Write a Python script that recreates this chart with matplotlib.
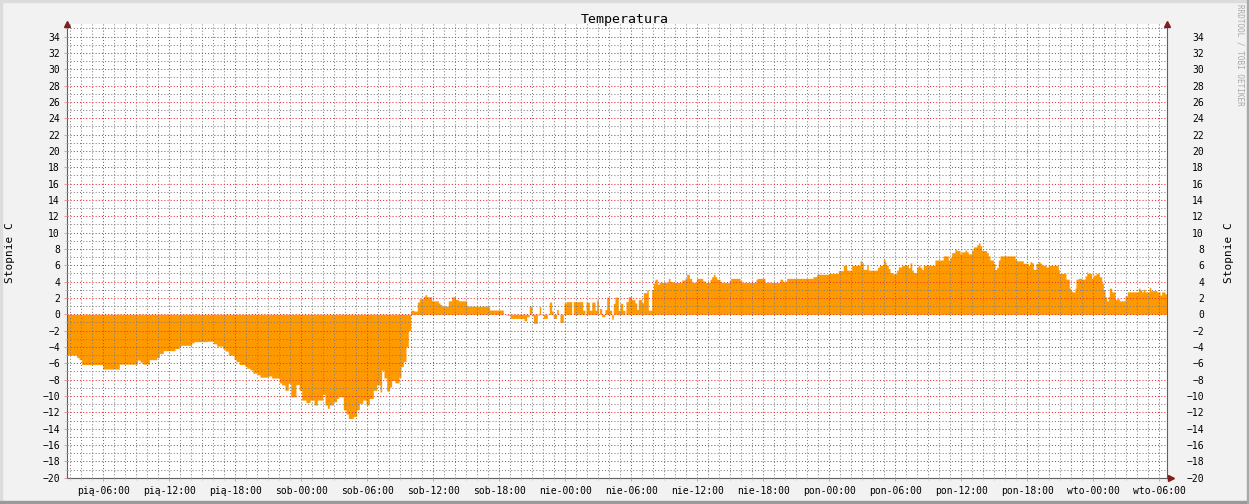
import matplotlib.pyplot as plt
from matplotlib.ticker import FixedLocator, MultipleLocator

plt.rcParams["font.family"] = "DejaVu Sans Mono"

# graph starts Friday ~02:39, covers 100 hours; values change at these elapsed hours
start_hour = 2.65
elapsed_h = [
    0.0, 0.93, 1.14, 1.38, 3.29, 4.8, 6.44, 6.68, 6.93, 7.53, 8.2, 8.44, 8.8, 9.86,
    10.25, 10.38, 11.38, 11.59, 12.77, 13.35, 13.65, 14.2, 14.41, 14.71, 15.23, 15.41,
    15.71, 16.23, 16.38, 16.68, 16.93, 17.35, 17.59, 18.35, 18.65, 19.35, 19.56, 19.86,
    20.16, 20.38, 20.86, 21.16, 21.38, 21.77, 22.14, 22.5, 22.8, 23.29, 23.5, 23.71,
    23.89, 24.25, 24.56, 24.71, 25.16, 25.41, 25.62, 26.07, 26.38, 26.62, 26.93, 27.23,
    27.53, 27.89, 28.2, 28.5, 28.65, 28.86, 29.11, 29.35, 29.56, 29.86, 30.23, 30.41,
    30.62, 30.86, 31.07, 31.29, 31.59, 31.89, 32.07, 32.44, 32.59, 32.75, 33.2, 33.8,
    33.95, 34.11, 34.71, 35.02, 35.32, 35.62, 36.38, 38.44, 39.71, 39.95, 40.32, 41.59,
    41.84, 42.07, 42.32, 42.44, 42.8, 42.98, 43.11, 43.35, 43.71, 43.89, 44.11, 44.25,
    44.56, 44.71, 44.86, 45.16, 45.23, 45.41, 45.93, 46.07, 46.93, 47.14, 47.23, 47.53,
    47.75, 48.05, 48.2, 48.35, 48.44, 48.65, 48.95, 49.11, 49.35, 49.56, 49.71, 49.86,
    50.16, 50.32, 50.56, 50.77, 50.86, 51.07, 51.38, 51.68, 51.84, 51.98, 52.29, 52.44,
    52.75, 52.89, 53.2, 53.35, 53.5, 53.71, 53.89, 54.71, 54.86, 55.16, 55.93, 56.23,
    56.38, 56.62, 56.84, 57.29, 57.84, 58.05, 58.5, 58.65, 58.8, 58.95, 59.11, 59.41,
    59.56, 60.25, 60.38, 61.23, 61.38, 62.68, 62.8, 63.5, 64.86, 65.11, 65.47, 67.86,
    68.2, 69.35, 70.16, 70.62, 70.93, 71.38, 72.14, 72.29, 72.44, 72.75, 72.89, 73.71,
    73.89, 74.26, 74.41, 74.5, 74.71, 74.86, 75.11, 75.47, 75.62, 75.93, 76.53, 76.68,
    76.84, 76.98, 77.29, 77.44, 77.59, 77.75, 77.89, 78.95, 79.71, 80.16, 80.32, 80.47,
    80.77, 80.93, 81.23, 81.38, 81.68, 81.84, 81.98, 82.29, 82.44, 82.75, 82.89, 83.05,
    83.2, 83.65, 83.8, 83.95, 84.26, 84.41, 84.56, 84.71, 84.86, 86.23, 86.38, 86.98,
    87.44, 87.59, 87.75, 87.89, 88.14, 88.35, 88.5, 88.65, 89.05, 89.26, 90.16, 90.25,
    90.86, 91.16, 91.29, 91.41, 91.68, 91.77, 91.98, 92.29, 92.59, 92.75, 92.84, 93.2,
    93.35, 93.59, 93.89, 94.11, 94.26, 94.41, 94.56, 94.71, 94.8, 95.02, 95.32, 95.47,
    95.71, 96.23, 96.44, 97.44, 97.59, 97.75, 97.89, 98.05, 98.44, 98.57, 99.11, 99.41,
    99.56, 99.86, 100.0,
]
temp_c = [
    -5.0, -5.3, -5.55, -6.15, -6.7, -6.1, -5.6, -5.85, -6.1, -5.55, -5.3, -4.8, -4.45, -4.2,
    -3.95, -3.8, -3.5, -3.35, -3.3, -3.6, -3.9, -4.2, -4.5, -5.0, -5.5, -5.8,
    -6.15, -6.4, -6.6, -6.8, -7.2, -7.4, -7.7, -7.55, -7.8, -8.4, -8.65, -9.3,
    -8.45, -10.1, -8.6, -9.3, -10.5, -10.8, -10.5, -11.1, -10.5, -9.8, -11.1, -11.5,
    -11.1, -10.7, -10.3, -10.1, -11.7, -12.2, -12.75, -12.5, -11.7, -10.9, -10.5, -11.1,
    -10.3, -9.3, -8.65, -9.5, -6.85, -7.8, -9.4, -8.9, -8.1, -8.4, -7.7, -6.4,
    -5.8, -4.0, -2.0, 0.5, 0.4, 1.5, 1.9, 2.2, 2.4, 2.15, 1.65, 1.4,
    1.2, 1.0, 1.65, 2.15, 1.8, 1.65, 1.0, 0.53, 0.0, -0.1, -0.5, -0.8,
    -0.3, 1.0, -0.2, -1.1, -0.1, 0.95, 0.0, -0.5, 0.0, 1.5, 0.4, -0.5,
    0.6, 0.0, -1.0, 0.0, 1.35, 1.55, 0.0, 1.55, 0.5, 0.0, 1.5, 0.5,
    1.5, 0.5, 1.75, 0.0, 0.7, -0.3, 0.6, 2.1, 0.5, -0.6, 1.35, 2.1,
    0.5, 1.35, 0.5, 0.0, 1.55, 2.15, 1.8, 1.4, 0.6, 1.8, 1.4, 2.65,
    3.0, 0.5, 3.0, 3.8, 4.3, 3.7, 3.9, 4.4, 4.0, 3.9, 4.2, 4.4,
    4.9, 4.4, 3.9, 4.4, 4.1, 3.9, 4.3, 4.6, 4.9, 4.6, 4.3, 4.0,
    3.9, 4.1, 4.4, 4.1, 3.9, 4.3, 4.4, 3.9, 4.3, 4.0, 4.4, 4.6,
    4.9, 5.0, 5.35, 6.0, 5.4, 6.0, 6.55, 6.3, 5.5, 6.0, 5.4, 5.75,
    6.0, 6.75, 6.4, 6.0, 5.6, 5.1, 4.95, 5.4, 5.8, 6.0, 5.7, 6.3,
    5.4, 5.1, 5.8, 6.0, 5.75, 5.5, 6.0, 6.65, 7.15, 6.65, 7.0, 7.55,
    8.0, 7.8, 7.4, 7.65, 7.85, 7.65, 7.4, 7.85, 8.25, 8.5, 8.75, 8.4,
    7.8, 7.55, 7.15, 6.65, 6.25, 5.5, 5.75, 6.65, 7.15, 6.75, 6.55, 6.25,
    6.0, 6.45, 6.3, 5.5, 6.25, 6.45, 6.25, 6.0, 5.8, 6.0, 5.5, 5.0,
    4.3, 3.2, 2.9, 2.75, 3.2, 4.3, 4.4, 4.3, 4.7, 5.2, 5.0, 4.4,
    4.8, 5.0, 4.6, 3.8, 3.0, 2.15, 1.65, 2.2, 3.2, 2.75, 1.8, 1.9,
    1.65, 2.25, 2.75, 3.2, 3.0, 2.75, 3.05, 2.75, 3.3, 2.9, 2.75, 2.35,
    2.75, 2.5, 2.5,
]

tick_hours = list(range(6, 103, 6))
tick_labels = [
    "pią-06:00", "pią-12:00", "pią-18:00", "sob-00:00", "sob-06:00", "sob-12:00",
    "sob-18:00", "nie-00:00", "nie-06:00", "nie-12:00", "nie-18:00", "pon-00:00",
    "pon-06:00", "pon-12:00", "pon-18:00", "wto-00:00", "wto-06:00",
]
y_major = list(range(-20, 35, 2))

W, H = 1249, 504
fig = plt.figure(figsize=(W / 100, H / 100), dpi=100, facecolor="#f2f2f2")

# 3d-ish frame like rrdtool
fig.patches.append(plt.Rectangle((0, 0), 2 / W, 1, transform=fig.transFigure, color="#dcdcdc"))
fig.patches.append(plt.Rectangle((0, 1 - 2 / H), 1, 2 / H, transform=fig.transFigure, color="#dcdcdc"))
fig.patches.append(plt.Rectangle((0, 0), 1, 3 / H, transform=fig.transFigure, color="#9a9a9a"))
fig.patches.append(plt.Rectangle((1 - 2 / W, 0), 2 / W, 1, transform=fig.transFigure, color="#a8a8a8"))

ax = fig.add_axes([66.5 / W, (H - 477.7) / H, 1100 / W, 453.4 / H])
ax.set_facecolor("white")

x = [start_hour + h for h in elapsed_h]
ax.fill_between(x, temp_c, 0, step="post", color="#ff9900", linewidth=0, zorder=1)

ax.set_xlim(start_hour, start_hour + 100)
ax.set_ylim(-20, 35.5)

ax.xaxis.set_major_locator(FixedLocator(tick_hours))
ax.xaxis.set_minor_locator(MultipleLocator(1))
ax.set_xticklabels(tick_labels)
ax.yaxis.set_major_locator(FixedLocator(y_major))
ax.yaxis.set_minor_locator(MultipleLocator(1))

ax.set_axisbelow(False)
ax.grid(which="minor", color=(0.5, 0.5, 0.5, 0.16), linestyle=(0, (1, 2)), linewidth=0.75)
ax.grid(which="major", color=(0.9, 0.2, 0.2, 0.24), linestyle=(0, (1, 2)), linewidth=0.75)

ax.tick_params(which="both", direction="out", labelsize=7, right=True, top=False)
ax.tick_params(which="major", length=2.2, width=0.75, color="#e0a0a0")
ax.tick_params(which="minor", length=1.2, width=0.75, color="#c8c8c8")
ax.tick_params(axis="x", pad=3.5)
ax.tick_params(axis="y", pad=2.5)

axis_c = "#606060"
arrow_c = "#7f1f1f"
ax.spines["top"].set_visible(False)
for side in ["left", "right", "bottom"]:
    ax.spines[side].set_color(axis_c)
    ax.spines[side].set_linewidth(0.8)

# arrow heads at axis ends
ax.plot([1, 1.006], [0, 0], color=axis_c, lw=0.8, transform=ax.transAxes, clip_on=False)
ax.plot([1.004], [0], marker=">", ms=4.5, color=arrow_c, transform=ax.transAxes, clip_on=False, zorder=5)
ax.plot([0, 1], [1, 1], marker="^", ms=4.5, ls="none", color=arrow_c,
        transform=ax.transAxes, clip_on=False, zorder=5)

# right-hand labels, right aligned
ax2 = ax.twinx()
ax2.set_ylim(ax.get_ylim())
ax2.yaxis.set_major_locator(FixedLocator(y_major))
ax2.tick_params(axis="y", length=0, pad=27, labelsize=7)
for lab in ax2.get_yticklabels():
    lab.set_horizontalalignment("right")
for s in ax2.spines.values():
    s.set_visible(False)

fig.text(0.5, 1 - 19 / H, "Temperatura", ha="center", va="center", fontsize=9.5)
fig.text(10 / W, 1 - 253 / H, "Stopnie C", rotation=90, ha="center", va="center", fontsize=8)
fig.text(1229 / W, 1 - 253 / H, "Stopnie C", rotation=90, ha="center", va="center", fontsize=8)
fig.text(1240 / W, 1 - 4 / H, "RRDTOOL / TOBI OETIKER", rotation=270, ha="center", va="top",
         fontsize=5.5, color="#a8a8a8")

fig.savefig("out.png", dpi=100, facecolor=fig.get_facecolor())
